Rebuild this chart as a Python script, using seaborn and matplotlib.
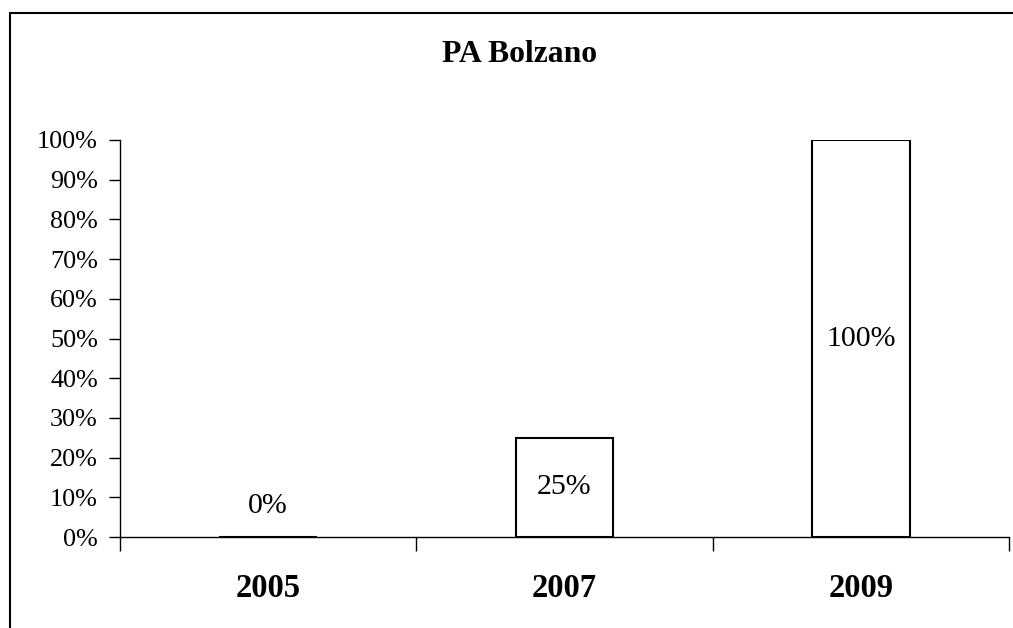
import matplotlib
matplotlib.use('Agg')
import matplotlib.pyplot as plt
import seaborn as sns
import pandas as pd
from matplotlib.patches import Rectangle

years = ['2005', '2007', '2009']
shares = [0, 25, 100]
title = 'PA Bolzano'

sns.set_style('white')
plt.rcParams['font.family'] = ['Liberation Serif', 'DejaVu Serif']
plt.rcParams['text.color'] = 'black'
plt.rcParams['xtick.color'] = 'black'
plt.rcParams['ytick.color'] = 'black'
plt.rcParams['axes.labelcolor'] = 'black'

df = pd.DataFrame({'year': years, 'share': shares})

fig = plt.figure(figsize=(10.13, 6.28), dpi=100)
ax = fig.add_axes([120 / 1013, 91 / 628, 889 / 1013, 397 / 628])

sns.barplot(data=df, x='year', y='share', color='white', width=0.33,
            edgecolor='black', linewidth=1.5, ax=ax)

ax.set_xlim(-0.5, len(years) - 0.5)
ax.set_ylim(0, 100)
ax.set_yticks(range(0, 101, 10))
ax.set_yticklabels([f'{v}%' for v in range(0, 101, 10)], fontsize=18.8)
ax.set_xticks(range(len(years)))
ax.set_xticklabels(years, fontsize=23.5, fontweight='bold')
ax.set_xticks([i - 0.5 for i in range(len(years) + 1)], minor=True)
ax.tick_params(axis='x', which='major', bottom=True, length=0, pad=26)
ax.tick_params(axis='x', which='minor', bottom=True, length=10, width=1,
               color='black', direction='out')
ax.tick_params(axis='y', left=True, length=8, width=1, color='black',
               direction='out', pad=8)
ax.set_xlabel('')
ax.set_ylabel('')

for side in ['top', 'right']:
    ax.spines[side].set_visible(False)
for side in ['left', 'bottom']:
    ax.spines[side].set_color('black')
    ax.spines[side].set_linewidth(1)

# value labels in the middle of each bar
for i, v in enumerate(shares):
    if v == 0:
        ax.annotate(f'{v}%', (i, 0), xytext=(0, 22), textcoords='offset points',
                    ha='center', va='center', fontsize=21.5)
    else:
        ax.text(i, v / 2, f'{v}%', ha='center', va='center', fontsize=21.5)

fig.text(520 / 1013, 1 - 54 / 628, title, ha='center', va='center',
         fontsize=22.8, fontweight='bold')

# outer chart frame
fig.patches.append(Rectangle((10 / 1013, -0.1), 1.1, 1.1 - 13 / 628,
                             transform=fig.transFigure, fill=False,
                             edgecolor='black', linewidth=1.5))

fig.savefig('out.png', dpi=100)
